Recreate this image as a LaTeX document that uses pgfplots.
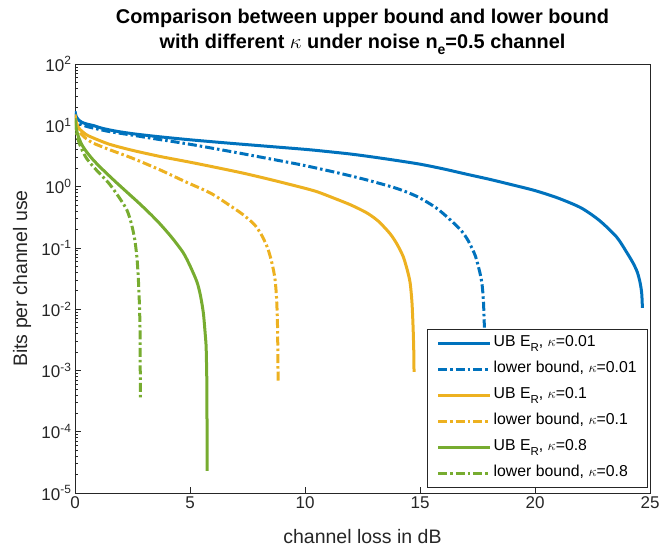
\documentclass[border=0pt]{standalone}
\usepackage{pgfplots}
\pgfplotsset{compat=1.18}
\usepackage{fontspec}
\setmainfont{Liberation Sans}
\definecolor{mblue}{rgb}{0,0.447,0.741}
\definecolor{morange}{rgb}{0.929,0.694,0.125}
\definecolor{mgreen}{rgb}{0.466,0.674,0.188}
\definecolor{axgray}{rgb}{0.15,0.15,0.15}
\newcommand{\lsub}[1]{\raisebox{-5pt}{\fontsize{11.5}{12}\selectfont #1}}
\newcommand{\tsub}[1]{\raisebox{-6.5pt}{\fontsize{14}{14}\selectfont #1}}
\begin{document}
\begin{tikzpicture}
\path[use as bounding box] (-75pt,-58pt) rectangle (585pt,493pt);
\begin{axis}[
  scale only axis, width=575pt, height=429pt,
  at={(0,0)}, anchor=south west,
  ymode=log, log basis y=10,
  xmin=0, xmax=25, ymin=1e-5, ymax=1e2,
  xtick={0,5,10,15,20,25},
  ytick={1e-5,1e-4,1e-3,1e-2,1e-1,1,1e1,1e2},
  yticklabels={10\textsuperscript{-5},10\textsuperscript{-4},10\textsuperscript{-3},10\textsuperscript{-2},10\textsuperscript{-1},10\textsuperscript{0},10\textsuperscript{1},10\textsuperscript{2}},
  minor ytick={2e-5,3e-5,4e-5,5e-5,6e-5,7e-5,8e-5,9e-5,
    2e-4,3e-4,4e-4,5e-4,6e-4,7e-4,8e-4,9e-4,
    2e-3,3e-3,4e-3,5e-3,6e-3,7e-3,8e-3,9e-3,
    0.02,0.03,0.04,0.05,0.06,0.07,0.08,0.09,
    0.2,0.3,0.4,0.5,0.6,0.7,0.8,0.9,
    2,3,4,5,6,7,8,9,20,30,40,50,60,70,80,90},
  xtick pos=bottom, ytick pos=left,
  tick align=inside,
  major tick length=6pt, minor tick length=3.5pt,
  every tick/.style={axgray, line width=0.6pt},
  axis line style={axgray, line width=0.8pt},
  /pgf/number format/assume math mode=true,
  tick label style={font=\fontsize{17}{20}\selectfont, text=axgray},
  xlabel={channel loss in dB},
  ylabel={Bits per channel use},
  label style={font=\fontsize{19.5}{23}\selectfont, text=axgray},
  xlabel style={at={(axis description cs:0.5,-0.1026)}, anchor=center},
  ylabel style={at={(axis description cs:-0.0922,0.5)}, anchor=center},
  title={Comparison between upper bound and lower bound\\with different $\kappa$ under noise n\tsub{e}=0.5 channel},
  title style={at={(0.5,1)}, anchor=south, inner sep=0pt, yshift=3pt, align=center, font=\bfseries\fontsize{19.9}{25}\selectfont},
  legend style={at={(1,0)}, anchor=south east, xshift=-2pt, yshift=5pt,
    draw=axgray, line width=0.7pt, fill=white,
    font=\fontsize{15.8}{18}\selectfont, inner xsep=9pt, inner ysep=3pt,
    row sep=4pt,
    nodes={text height=12pt, text depth=6pt, inner sep=2pt},
    /tikz/every even column/.append style={column sep=5pt}},
  legend cell align=left,
  legend image code/.code={\draw[#1] (0pt,0pt) -- (52pt,0pt);},
  every axis plot/.append style={smooth, tension=0.45},
]
\addplot[mblue, line width=3pt] coordinates {
(0,17) (0.05,14) (0.15,12.3) (0.3,11.2) (0.5,10.5) (0.8,9.9) (1.2,8.9) (1.8,8.0) (2.5,7.3) (3.5,6.6) (5,5.8) (7,5.0) (10,4.05) (11,3.72) (12,3.39) (13,3.02) (14,2.66) (15,2.32) (16,1.95) (17,1.6) (18,1.32) (19,1.07) (20,0.86) (21,0.65) (22,0.45) (22.8,0.28) (23.55,0.15) (24,0.083) (24.27,0.056) (24.45,0.04) (24.57,0.027) (24.64,0.018) (24.67,0.0105)
};
\addlegendentry{UB E\lsub{R}, $\kappa$=0.01}
\addplot[mblue, line width=3pt, dash pattern=on 9pt off 3pt on 2.5pt off 3pt] coordinates {
(0,16) (0.05,13) (0.15,11) (0.3,10.2) (0.5,9.6) (0.8,9.0) (1.5,7.9) (2.5,6.9) (3.5,6.0) (5,4.9) (7,3.6) (9,2.6) (10,2.2) (11.5,1.65) (12.7,1.28) (14,0.93) (14.9,0.68) (15.7,0.45) (16.3,0.29) (16.8,0.19) (17.1,0.13) (17.4,0.075) (17.6,0.04) (17.7,0.025) (17.76,0.013) (17.8,0.005)
};
\addlegendentry{lower bound, $\kappa$=0.01}
\addplot[morange, line width=3pt] coordinates {
(0,15) (0.05,11.5) (0.15,9.2) (0.3,8.0) (0.5,7.0) (0.8,6.2) (1.5,4.9) (2.5,3.9) (3.7,3.1) (5,2.5) (6,2.1) (7.3,1.66) (8.5,1.3) (9.8,0.98) (10.5,0.83) (11.2,0.66) (12,0.5) (12.7,0.37) (13.2,0.27) (13.7,0.17) (14,0.115) (14.27,0.072) (14.45,0.043) (14.57,0.027) (14.65,0.013) (14.7,0.005) (14.73,0.002) (14.74,0.00095)
};
\addlegendentry{UB E\lsub{R}, $\kappa$=0.1}
\addplot[morange, line width=3pt, dash pattern=on 9pt off 3pt on 2.5pt off 3pt] coordinates {
(0,14) (0.05,10.5) (0.15,8.2) (0.3,7.0) (0.5,6.0) (0.8,5.1) (1.5,4.0) (2.5,2.9) (3.7,1.87) (4.8,1.2) (5.9,0.78) (6.7,0.5) (7.3,0.35) (7.8,0.24) (8.1,0.165) (8.35,0.105) (8.5,0.07) (8.62,0.045) (8.7,0.03) (8.76,0.016) (8.8,0.0066) (8.82,0.002) (8.83,0.00066)
};
\addlegendentry{lower bound, $\kappa$=0.1}
\addplot[mgreen, line width=3pt] coordinates {
(0,13) (0.05,9) (0.15,6.5) (0.3,4.8) (0.5,3.7) (0.8,2.7) (1.2,1.9) (1.7,1.26) (2.25,0.816) (2.8,0.53) (3.3,0.35) (3.7,0.245) (4.2,0.149) (4.7,0.084) (5.0,0.051) (5.3,0.028) (5.45,0.017) (5.58,0.0087) (5.66,0.004) (5.7,0.0025) (5.72,0.0012) (5.73,0.0007) (5.738,0.0002) (5.742,0.00008) (5.745,0.000023)
};
\addlegendentry{UB E\lsub{R}, $\kappa$=0.8}
\addplot[mgreen, line width=3pt, dash pattern=on 9pt off 3pt on 2.5pt off 3pt] coordinates {
(0,12) (0.05,8) (0.15,5.6) (0.3,4.0) (0.5,2.9) (0.8,2.1) (1.1,1.6) (1.5,1.1) (1.9,0.68) (2.25,0.42) (2.45,0.25) (2.6,0.135) (2.7,0.065) (2.76,0.028) (2.8,0.012) (2.83,0.004) (2.84,0.00035)
};
\addlegendentry{lower bound, $\kappa$=0.8}
\end{axis}
\end{tikzpicture}
\end{document}
